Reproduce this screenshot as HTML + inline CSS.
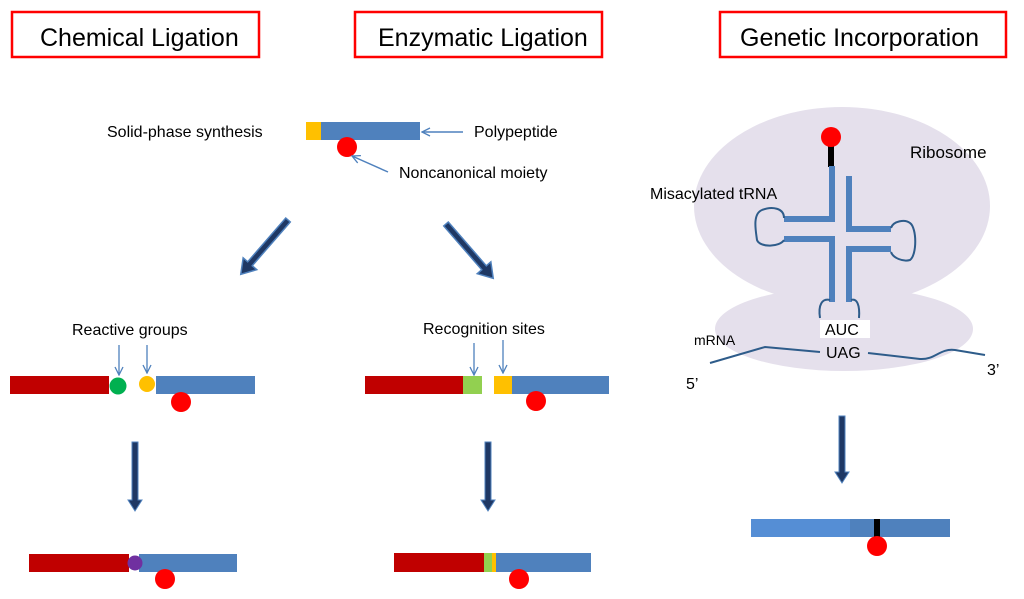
<!DOCTYPE html>
<html><head><meta charset="utf-8"><style>
html,body{margin:0;padding:0;background:#fff;}
svg{display:block;font-family:"Liberation Sans",sans-serif;}
</style></head><body>
<svg width="1024" height="599" viewBox="0 0 1024 599" xmlns="http://www.w3.org/2000/svg">
<defs>
<marker id="ah" markerWidth="10" markerHeight="10" refX="9" refY="5" orient="auto" markerUnits="userSpaceOnUse">
<path d="M1,1 L9,5 L1,9" fill="none" stroke="#4F81BD" stroke-width="1.3"/>
</marker>
</defs>
<!-- title boxes -->
<rect x="12" y="12" width="247" height="45" fill="#fff" stroke="#FF0000" stroke-width="2.5"/>
<text x="40" y="46" font-size="25" fill="#000">Chemical Ligation</text>
<rect x="355" y="12" width="247" height="45" fill="#fff" stroke="#FF0000" stroke-width="2.5"/>
<text x="378" y="46" font-size="25" fill="#000">Enzymatic Ligation</text>
<rect x="720" y="12" width="286" height="45" fill="#fff" stroke="#FF0000" stroke-width="2.5"/>
<text x="740" y="46" font-size="25" fill="#000">Genetic Incorporation</text>

<!-- top polypeptide -->
<text x="107" y="137" font-size="16">Solid-phase synthesis</text>
<rect x="306" y="122" width="15" height="18" fill="#FFC000"/>
<rect x="321" y="122" width="99" height="18" fill="#4F81BD"/>
<circle cx="347" cy="147" r="10" fill="#FF0000"/>
<line x1="463" y1="132" x2="422" y2="132" stroke="#4F81BD" stroke-width="1.5" marker-end="url(#ah)"/>
<text x="474" y="137" font-size="16">Polypeptide</text>
<line x1="388" y1="172" x2="352" y2="156" stroke="#4F81BD" stroke-width="1.5" marker-end="url(#ah)"/>
<text x="399" y="178" font-size="16">Noncanonical moiety</text>

<!-- diagonal arrows -->
<g transform="translate(288,220) rotate(131)">
<polygon points="0,-3 58,-3 58,-9 72,0 58,9 58,3 0,3" fill="#1F3864" stroke="#4F81BD" stroke-width="1.5"/>
</g>
<g transform="translate(446,224) rotate(49)">
<polygon points="0,-3 58,-3 58,-9 72,0 58,9 58,3 0,3" fill="#1F3864" stroke="#4F81BD" stroke-width="1.5"/>
</g>

<!-- row 2 left -->
<text x="72" y="335" font-size="16">Reactive groups</text>
<line x1="119" y1="345" x2="119" y2="375" stroke="#4F81BD" stroke-width="1.3" marker-end="url(#ah)"/>
<line x1="147" y1="345" x2="147" y2="373" stroke="#4F81BD" stroke-width="1.3" marker-end="url(#ah)"/>
<rect x="10" y="376" width="99" height="18" fill="#C00000"/>
<circle cx="118" cy="386" r="8.5" fill="#00B050"/>
<circle cx="147" cy="384" r="8" fill="#FFC000"/>
<rect x="156" y="376" width="99" height="18" fill="#4F81BD"/>
<circle cx="181" cy="402" r="10" fill="#FF0000"/>

<!-- row 2 right -->
<text x="423" y="334" font-size="16">Recognition sites</text>
<line x1="474" y1="343" x2="474" y2="375" stroke="#4F81BD" stroke-width="1.3" marker-end="url(#ah)"/>
<line x1="503" y1="340" x2="503" y2="373" stroke="#4F81BD" stroke-width="1.3" marker-end="url(#ah)"/>
<rect x="365" y="376" width="98" height="18" fill="#C00000"/>
<rect x="463" y="376" width="19" height="18" fill="#92D050"/>
<rect x="494" y="376" width="18" height="18" fill="#FFC000"/>
<rect x="512" y="376" width="97" height="18" fill="#4F81BD"/>
<circle cx="536" cy="401" r="10" fill="#FF0000"/>

<!-- down arrows -->
<polygon points="132,442 138,442 138,500 142,500 135,511 128,500 132,500" fill="#1F3864" stroke="#4F81BD" stroke-width="1"/>
<polygon points="485,442 491,442 491,500 495,500 488,511 481,500 485,500" fill="#1F3864" stroke="#4F81BD" stroke-width="1"/>
<polygon points="839,416 845,416 845,472 849,472 842,483 835,472 839,472" fill="#1F3864" stroke="#4F81BD" stroke-width="1"/>

<!-- bottom left -->
<rect x="29" y="554" width="100" height="18" fill="#C00000"/>
<rect x="139" y="554" width="98" height="18" fill="#4F81BD"/>
<circle cx="135" cy="563" r="7.5" fill="#7030A0"/>
<circle cx="165" cy="579" r="10" fill="#FF0000"/>

<!-- bottom right -->
<rect x="394" y="553" width="90" height="19" fill="#C00000"/>
<rect x="484" y="553" width="8" height="19" fill="#92D050"/>
<rect x="492" y="553" width="4" height="19" fill="#FFC000"/>
<rect x="496" y="553" width="95" height="19" fill="#4F81BD"/>
<circle cx="519" cy="579" r="10" fill="#FF0000"/>

<!-- ribosome -->
<ellipse cx="842" cy="206" rx="148" ry="99" fill="#E5E0EC"/>
<ellipse cx="844" cy="329" rx="129" ry="42" fill="#E5E0EC"/>
<text x="910" y="158" font-size="17">Ribosome</text>
<text x="650" y="199" font-size="16">Misacylated tRNA</text>
<!-- tRNA -->
<rect x="828" y="142" width="6" height="25" fill="#000"/>
<circle cx="831" cy="137" r="10" fill="#FF0000"/>
<g fill="#4F81BD">
<rect x="829" y="166" width="6" height="56"/>
<rect x="784" y="216" width="51" height="6"/>
<rect x="784" y="236" width="51" height="6"/>
<rect x="829" y="236" width="6" height="66"/>
<rect x="846" y="176" width="6" height="56"/>
<rect x="846" y="226" width="45" height="6"/>
<rect x="846" y="246" width="45" height="6"/>
<rect x="846" y="246" width="6" height="56"/>
</g>
<g fill="none" stroke="#2E5C8A" stroke-width="2">
<path d="M784,218 C784,208 772,206 762,210 C752,214 756,232 757,240 C760,248 780,247 784,240"/>
<path d="M891,228 C893,221 905,219 910,223 C917,228 917,255 910,260 C903,262 893,258 891,252"/>
<path d="M830,300 C822,298 818,305 820,318"/>
<path d="M851,300 C857,298 860,305 859,318"/>
</g>
<rect x="820" y="320" width="50" height="18" fill="#fff"/>
<text x="825" y="335" font-size="16">AUC</text>
<path d="M710,363 L765,347 L820,352 M868,353 L920,359 C935,360 940,348 955,350 L985,355" fill="none" stroke="#2E5C8A" stroke-width="2"/>
<text x="826" y="358" font-size="16">UAG</text>
<text x="694" y="345" font-size="14">mRNA</text>
<text x="686" y="389" font-size="16">5’</text>
<text x="987" y="375" font-size="16">3’</text>

<!-- bottom right product -->
<rect x="751" y="519" width="99" height="18" fill="#558ED5"/>
<rect x="850" y="519" width="100" height="18" fill="#4F81BD"/>
<rect x="874" y="519" width="6" height="20" fill="#000"/>
<circle cx="877" cy="546" r="10" fill="#FF0000"/>
</svg>
</body></html>
